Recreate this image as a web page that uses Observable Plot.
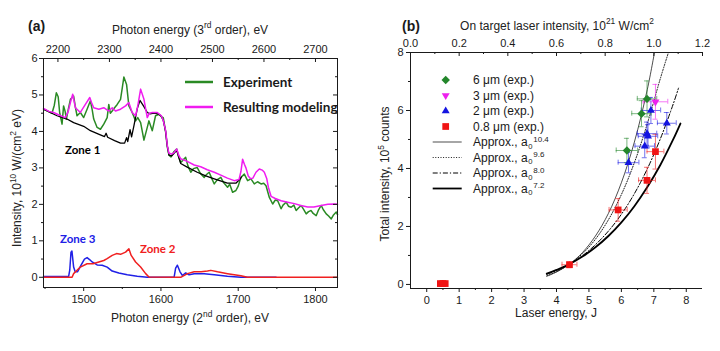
<!DOCTYPE html>
<html><head><meta charset="utf-8">
<script src="https://cdn.jsdelivr.net/npm/d3@7"></script>
<script src="https://cdn.jsdelivr.net/npm/@observablehq/plot@0.6"></script>
<style>
html,body{margin:0;padding:0;background:#fff;}
#wrap{position:relative;width:720px;height:351px;overflow:hidden;background:#fff;}
#a,#b{position:absolute;top:0;width:360px;height:351px;}
#a{left:0}#b{left:360px}
text{white-space:pre}
</style></head><body><div id="wrap"><div id="a"></div><div id="b"></div></div>
<script>
// ================= Panel (a) data: photon energy (2nd order, eV) / intensity (1e10 W/(cm2 eV)) =================
const expE = [1449,1454,1459,1462,1464.6,1467,1469,1472,1474,1476,1477.6,1480,1482.8,1487,1489,1491.4,1495.7,1500,1504.4,1508.7,1511,1513,1517.4,1521.7,1526,1530.4,1532.5,1534.5,1536.9,1540,1543.4,1547.7,1550,1552,1555.5,1558.5,1562.8,1567.2,1570,1573.7,1578,1582.3,1584.4,1588.8,1593,1597.4,1601,1603,1606,1608,1610.4,1613,1617,1620.4,1623,1625.6,1628,1632,1635,1638.6,1642,1647,1651,1656,1659,1662.4,1666,1669,1673,1677.5,1681,1686.2,1689,1692.7,1697,1700,1703.5,1707.9,1712.2,1716.5,1720.8,1725,1729.5,1733,1736,1740.3,1744.6,1748,1751.1,1755.5,1758,1762,1765,1768.5,1772,1775,1778,1781.4,1785,1788,1791,1794.4,1797,1800.9,1804,1807.4,1810,1813.9,1817,1820.4,1823,1826.9,1828.5];
const expI = [4.60,4.55,4.50,4.72,5.06,4.95,4.50,4.20,4.70,4.55,4.34,4.60,4.88,4.97,4.70,4.43,4.52,4.38,4.61,4.84,4.60,4.34,4.11,4.06,4.20,4.38,4.74,4.50,4.56,4.65,4.74,4.88,5.20,5.49,5.29,4.70,4.52,4.29,4.38,4.24,3.76,4.11,4.29,4.02,4.43,4.47,4.40,4.38,4.00,3.60,3.35,3.30,3.45,3.52,3.30,3.15,3.20,3.29,3.05,2.88,2.98,3.01,2.85,2.74,2.82,2.88,2.70,2.56,2.68,2.74,2.60,2.47,2.55,2.33,2.38,2.50,2.74,2.83,2.65,2.70,2.56,2.62,2.56,2.58,2.51,2.19,2.01,2.12,2.10,1.88,1.98,2.06,1.95,1.92,1.98,1.83,1.90,1.97,1.85,1.74,1.80,1.83,1.75,1.69,1.85,1.97,1.86,1.74,1.68,1.60,1.70,1.79,1.72];

const modE = [1448,1455,1461,1468,1476.3,1480,1482.8,1485.8,1489.3,1495.7,1502.2,1507.9,1510,1513,1519.6,1526,1532.5,1537,1541.2,1547.7,1554.2,1558.5,1562.8,1567.2,1570,1573.7,1578,1582.3,1585,1588.8,1595.3,1600.5,1603,1606.1,1608.3,1610.4,1614,1617,1620.4,1623,1625.6,1634,1643,1651.5,1660,1669,1677.5,1686,1694.9,1701,1703.5,1705.7,1708,1710,1713,1716,1719,1723,1727.3,1731,1733.8,1737,1739,1742.5,1748,1755.5,1764,1772.8,1781,1790,1798,1807.4,1816,1824.7,1828.5];
const modI = [4.63,4.55,4.52,4.45,4.38,4.55,4.79,5.02,4.65,4.52,4.74,4.93,4.80,4.65,4.61,4.65,4.56,4.65,4.56,4.61,4.70,4.79,4.52,4.43,4.70,5.16,4.88,4.38,4.50,4.52,4.52,4.43,4.30,4.02,3.60,3.40,3.38,3.42,3.52,3.35,3.25,3.18,3.08,3.03,2.95,2.88,2.80,2.72,2.65,2.68,2.90,3.24,3.10,3.00,2.78,2.70,2.72,2.88,2.97,2.94,2.88,2.70,2.47,2.22,2.16,2.10,2.06,2.02,1.97,1.93,1.93,1.97,2.00,2.01,2.00];

const zone1E = [1448,1465.5,1478.4,1487,1500,1508.7,1520,1527,1529,1531,1540,1547.7,1553,1555.5,1557,1560,1562,1565,1569.3,1572.8,1578,1582.3,1586,1591,1596,1600,1603,1606,1608.3,1610.4,1614,1617,1620.4,1623,1625.6,1634,1647,1658,1669,1686,1697,1702.7,1704];
const zone1I = [4.61,4.43,4.34,4.24,4.14,4.02,3.92,3.86,3.95,3.84,3.75,3.68,3.68,3.83,3.72,4.05,3.85,4.15,4.62,4.85,4.68,4.52,4.48,4.50,4.48,4.43,4.30,4.00,3.60,3.35,3.33,3.40,3.48,3.30,3.12,3.02,2.88,2.78,2.70,2.58,2.58,2.70,2.75];

const zone2E = [1448,1485,1487,1495.7,1504.4,1512,1519.6,1526,1530.4,1536.9,1542.5,1547.7,1554.2,1558.5,1561.5,1567.2,1573.7,1580.2,1584.5,1625.6,1634.3,1643,1652,1660.2,1664.6,1673.2,1686.2,1703.5,1712,1828.5];
const zone2I = [0,0,0.10,0.28,0.37,0.37,0.42,0.46,0.51,0.60,0.65,0.63,0.69,0.78,0.60,0.42,0.28,0.10,0.01,0,0.10,0.15,0.15,0.17,0.19,0.15,0.10,0.04,0,0];

const zone3E = [1448,1480.6,1482,1483.6,1484.8,1487,1489,1492,1497,1501,1504.4,1508,1511,1517.4,1523.9,1530.4,1536.9,1545.5,1556.4,1569.3,1582.3,1617,1619,1621.3,1624.7,1627.8,1632,1636.4,1643,1656,1669,1686,1703.5,1749];
const zone3I = [0.02,0.03,0.20,0.69,0.72,0.28,0.15,0.15,0.35,0.50,0.54,0.48,0.42,0.34,0.33,0.28,0.17,0.12,0.07,0.03,0,0,0.25,0.33,0.15,0.05,0.12,0.07,0.10,0.10,0.07,0.03,0,0];

const botMajorA = [1500,1600,1700,1800];
const botMinorA = [1450,1550,1650,1750];
const topMajor3 = [2200,2300,2400,2500,2600,2700];
const topMinor3 = [2250,2350,2450,2550,2650];
const leftMajorA = [0,1,2,3,4,5,6];
const leftMinorA = [0.5,1.5,2.5,3.5,4.5,5.5];
const orderRatio = 3 / 2; // 3rd-order energy = 1.5 x 2nd-order energy

// ================= Panel (b) data: laser energy (J) / total intensity (1e5 counts) =================
const e6 = [6.79,6.62,6.17], c6 = [6.40,5.89,4.62], ex6 = [0.30,0.30,0.33], ey6 = [0.62,0.45,0.42];
const e3 = [7.05], c3 = [6.30], ex3 = [0.38], ey3 = [0.60];
const e2 = [6.91,7.40,6.79,6.82,6.72,6.22], c2 = [6.00,5.56,5.20,5.11,4.77,4.20], ex2 = [0.30,0.29,0.30,0.30,0.30,0.32], ey2 = [0.45,0.37,0.40,0.40,0.40,0.35];
const e08 = [0.42,0.50,0.57,4.40,5.90,6.79,7.05], c08 = [0.03,0.03,0.03,0.68,2.57,3.59,4.58], ex08 = [0,0,0,0.23,0.28,0.26,0.26], ey08 = [0,0,0,0.10,0.39,0.45,0.60];

const fit104E = [3.7,4.0,4.4,4.8,5.2,5.6,6.0,6.4,6.8,7.02];
const fit104I = [0.28,0.43,0.70,1.10,1.67,2.45,3.51,4.91,6.73,8.0];
const fit96E = [3.7,4.0,4.4,4.8,5.2,5.6,6.0,6.4,6.8,7.2,7.45];
const fit96I = [0.30,0.44,0.70,1.06,1.56,2.23,3.10,4.20,5.55,7.10,8.0];
const fit80E = [3.7,4.0,4.4,4.8,5.2,5.6,6.0,6.4,6.8,7.2,7.6,7.76];
const fit80I = [0.35,0.48,0.70,0.99,1.37,1.84,2.42,3.13,3.99,5.02,6.23,6.77];
const fit72E = [3.7,4.0,4.4,4.8,5.2,5.6,6.0,6.4,6.8,7.2,7.6,7.82];
const fit72I = [0.37,0.50,0.70,0.96,1.28,1.67,2.14,2.70,3.36,4.12,5.01,5.55];

const botMajorB = [0,1,2,3,4,5,6,7,8];
const botMinorB = [0.5,1.5,2.5,3.5,4.5,5.5,6.5,7.5];
const leftMajorB = [0,2,4,6,8];
const leftMinorB = [1,3,5,7];
const topMajorB = [0,0.2,0.4,0.6,0.8,1.0,1.2];
const topMinorB = [0.1,0.3,0.5,0.7,0.9,1.1];
const topRangeB = [0, 1.2]; // intensity (1e21 W/cm2) at left / right frame edge

const legendSizes = ["6 μm (exp.)","3 μm (exp.)","2 μm (exp.)","0.8 μm (exp.)"];
const legendFits = ["10.4","9.6","8.0","7.2"];

// ================= helpers =================
const rows = (X, Y) => X.map((x, i) => ({x, y: Y[i]}));
const ink = "#1a1a1a";
const baseStyle = {fontFamily: "'Liberation Sans', Arial, sans-serif", fontSize: "11px", color: ink, background: "white", overflow: "visible"};
const plain = d => String(d);

function richText(svg, x, y, parts, o = {}) {
  const size = o.size || 12;
  const t = d3.select(svg).append("text")
    .attr("transform", `translate(${x},${y}) rotate(${o.rotate || 0})`)
    .attr("text-anchor", o.anchor || "start")
    .attr("font-size", size)
    .attr("font-weight", o.weight || "normal")
    .attr("fill", o.fill || ink);
  let cur = 0;
  for (const p of parts) {
    const s = typeof p === "string" ? {t: p} : p;
    const target = s.sup ? -0.42 * size : 0;
    const ts = t.append("tspan").attr("dy", target - cur).text(s.t);
    if (s.sup) ts.attr("font-size", size * 0.7);
    cur = target;
  }
  return t;
}

function errorMarks(E, C, EX, EY, color, capX, capY) {
  const d = E.map((x, i) => ({x, y: C[i], ex: EX[i], ey: EY[i]})).filter(d => d.ex > 0);
  const o = {stroke: color, strokeWidth: 0.8, strokeOpacity: 0.75};
  return [
    Plot.ruleX(d, {x: "x", y1: d => d.y - d.ey, y2: d => d.y + d.ey, ...o}),
    Plot.ruleY(d, {y: "y", x1: d => d.x - d.ex, x2: d => d.x + d.ex, ...o}),
    Plot.ruleY(d, {y: d => d.y - d.ey, x1: d => d.x - capX, x2: d => d.x + capX, ...o}),
    Plot.ruleY(d, {y: d => d.y + d.ey, x1: d => d.x - capX, x2: d => d.x + capX, ...o}),
    Plot.ruleX(d, {x: d => d.x - d.ex, y1: d => d.y - capY, y2: d => d.y + capY, ...o}),
    Plot.ruleX(d, {x: d => d.x + d.ex, y1: d => d.y - capY, y2: d => d.y + capY, ...o})
  ];
}

// ================= Panel (a) =================
{
  const W = 360, H = 351, mT = 58, mR = 23, mB = 64, mL = 43;
  const xD = [1448, 1828.5], yD = [-0.28, 6];
  const pxX = (W - mL - mR) / (xD[1] - xD[0]);
  const pxY = (H - mT - mB) / (yD[1] - yD[0]);
  const inTop = (vals, len) => Plot.ruleX(vals, {x: d => d, y1: yD[1], y2: yD[1] - len / pxY, stroke: ink});
  const inRight = (vals, len) => Plot.ruleY(vals, {y: d => d, x1: xD[1], x2: xD[1] - len / pxX, stroke: ink});
  const svg = Plot.plot({
    width: W, height: H, marginTop: mT, marginRight: mR, marginBottom: mB, marginLeft: mL,
    style: baseStyle,
    x: {domain: xD}, y: {domain: yD},
    marks: [
      Plot.line(rows(zone3E, zone3I), {x: "x", y: "y", stroke: "#2020e6", strokeWidth: 1.5}),
      Plot.line(rows(zone2E, zone2I), {x: "x", y: "y", stroke: "#f02020", strokeWidth: 1.5}),
      Plot.line(rows(expE, expI), {x: "x", y: "y", stroke: "#2a8a24", strokeWidth: 1.5}),
      Plot.line(rows(zone1E, zone1I), {x: "x", y: "y", stroke: "#000", strokeWidth: 1.3}),
      Plot.line(rows(modE, modI), {x: "x", y: "y", stroke: "#f01cf0", strokeWidth: 1.5}),
      Plot.frame({stroke: ink}),
      Plot.axisX({anchor: "bottom", ticks: botMajorA, tickSize: 4, tickPadding: 4, tickFormat: plain, label: null}),
      Plot.axisX({anchor: "bottom", ticks: botMinorA, tickSize: 2, tickFormat: () => "", label: null}),
      Plot.axisX({anchor: "top", ticks: topMajor3.map(v => v / orderRatio), tickSize: 0, tickPadding: 6, tickFormat: v => String(Math.round(v * orderRatio)), label: null}),
      inTop(topMajor3.map(v => v / orderRatio), 4),
      inTop(topMinor3.map(v => v / orderRatio), 2),
      Plot.axisY({anchor: "left", ticks: leftMajorA, tickSize: 4, tickPadding: 2, tickFormat: plain, label: null}),
      Plot.axisY({anchor: "left", ticks: leftMinorA, tickSize: 2, tickFormat: () => "", label: null}),
      inRight(leftMajorA, 4),
      inRight(leftMinorA, 2)
    ]
  });
  document.getElementById("a").appendChild(svg);
  const g = d3.select(svg);
  g.append("text").attr("x", 28).attr("y", 31).attr("text-anchor", "start").attr("font-size", 14).attr("font-weight", "bold").attr("fill", ink).text("(a)");
  richText(svg, 190, 33.5, ["Photon energy (3", {t: "rd", sup: true}, " order), eV"], {anchor: "middle", fill: "#222"});
  richText(svg, 190, 322, ["Photon energy (2", {t: "nd", sup: true}, " order), eV"], {anchor: "middle", fill: "#222"});
  richText(svg, 21, 178, ["Intensity, 10", {t: "10", sup: true}, " W/(cm", {t: "2", sup: true}, " eV)"], {anchor: "middle", rotate: -90, fill: "#222"});
  // legend
  const lf = "Lato, 'Open Sans', sans-serif";
  const leg = [["Experiment", "#2a8a24", 82], ["Resulting modeling", "#f01cf0", 107]];
  for (const [name, col, y] of leg) {
    g.append("line").attr("x1", 185).attr("x2", 213).attr("y1", y).attr("y2", y).attr("stroke", col).attr("stroke-width", 2.5);
    g.append("text").attr("x", 223).attr("y", y + 4.5).attr("text-anchor", "start").attr("font-family", lf).attr("font-weight", "bold").attr("font-size", 13.5).attr("fill", ink).text(name);
  }
  // zone annotations
  const zones = [["Zone 1", "#000", 65, 154], ["Zone 3", "#2020e6", 60, 242.5], ["Zone 2", "#f02020", 140, 253]];
  for (const [name, col, x, y] of zones) {
    g.append("text").attr("x", x).attr("y", y).attr("text-anchor", "start").attr("font-family", lf).attr("font-weight", "bold").attr("font-size", 11.5).attr("fill", col).text(name);
  }
}

// ================= Panel (b) =================
{
  const W = 360, H = 351, mT = 52, mR = 18, mB = 63, mL = 50;
  const xD = [-0.5, 8.5], yD = [-0.14, 8];
  const pxX = (W - mL - mR) / (xD[1] - xD[0]);
  const pxY = (H - mT - mB) / (yD[1] - yD[0]);
  const toJ = v => xD[0] + (v - topRangeB[0]) / (topRangeB[1] - topRangeB[0]) * (xD[1] - xD[0]);
  const inTop = (vals, len) => Plot.ruleX(vals, {x: d => toJ(d), y1: yD[1], y2: yD[1] - len / pxY, stroke: ink});
  const capX = 2.5 / pxX, capY = 2.5 / pxY;
  const line = (E, I, o) => Plot.line(rows(E, I), {x: "x", y: "y", stroke: "#000", curve: "catmull-rom", clip: true, ...o});
  const dots = (E, C, sym, fill, extra = {}) => Plot.dot(rows(E, C), {x: "x", y: "y", symbol: sym, fill, r: 3.8, ...extra});
  const col6 = "#23862b", col3 = "#ee20ee", col2 = "#1414e0", col08 = "#f01414";
  const svg = Plot.plot({
    width: W, height: H, marginTop: mT, marginRight: mR, marginBottom: mB, marginLeft: mL,
    style: baseStyle,
    x: {domain: xD}, y: {domain: yD},
    marks: [
      line(fit104E, fit104I, {strokeWidth: 0.7}),
      line(fit96E, fit96I, {strokeWidth: 0.9, strokeDasharray: "1,1.6"}),
      line(fit80E, fit80I, {strokeWidth: 1, strokeDasharray: "5,2,1.2,2"}),
      line(fit72E, fit72I, {strokeWidth: 1.8}),
      ...errorMarks(e08, c08, ex08, ey08, col08, capX, capY),
      ...errorMarks(e2, c2, ex2, ey2, col2, capX, capY),
      ...errorMarks(e3, c3, ex3, ey3, col3, capX, capY),
      ...errorMarks(e6, c6, ex6, ey6, col6, capX, capY),
      dots(e08, c08, "square", col08),
      dots(e2, c2, "triangle2", col2),
      dots(e3, c3, "triangle2", col3, {rotate: 180}),
      dots(e6, c6, "diamond2", col6),
      Plot.ruleY([yD[0]], {stroke: ink}),
      Plot.ruleY([yD[1]], {stroke: ink}),
      Plot.ruleX([xD[0]], {stroke: ink}),
      Plot.axisX({anchor: "bottom", ticks: botMajorB, tickSize: 4, tickPadding: 4, tickFormat: plain, label: null}),
      Plot.axisX({anchor: "bottom", ticks: botMinorB, tickSize: 2, tickFormat: () => "", label: null}),
      Plot.axisX({anchor: "top", ticks: topMajorB.map(toJ), tickSize: 0, tickPadding: 6, tickFormat: v => d3.format(".1f")(topRangeB[0] + (v - xD[0]) / (xD[1] - xD[0]) * (topRangeB[1] - topRangeB[0])), label: null}),
      inTop(topMajorB, 4),
      inTop(topMinorB, 2),
      Plot.axisY({anchor: "left", ticks: leftMajorB, tickSize: 4, tickPadding: 3, tickFormat: plain, label: null}),
      Plot.axisY({anchor: "left", ticks: leftMinorB, tickSize: 2, tickFormat: () => "", label: null})
    ]
  });
  document.getElementById("b").appendChild(svg);
  const g = d3.select(svg);
  g.append("text").attr("x", 42).attr("y", 31).attr("text-anchor", "start").attr("font-size", 14).attr("font-weight", "bold").attr("fill", ink).text("(b)");
  richText(svg, 197, 29.5, ["On target laser intensity, 10", {t: "21", sup: true}, " W/cm", {t: "2", sup: true}], {anchor: "middle", fill: "#222"});
  richText(svg, 196, 316.5, ["Laser energy, J"], {anchor: "middle", fill: "#222"});
  richText(svg, 29, 174, ["Total intensity, 10", {t: "5", sup: true}, " counts"], {anchor: "middle", rotate: -90, fill: "#222"});
  // legend
  const symX = 85.7, txtX = 113, row0 = 80, dRow = 15.5;
  const symDefs = [[d3.symbolDiamond2, col6, 0], [d3.symbolTriangle2, col3, 180], [d3.symbolTriangle2, col2, 0], [d3.symbolSquare, col08, 0]];
  symDefs.forEach(([type, col, rot], i) => {
    const y = row0 + i * dRow;
    g.append("path").attr("d", d3.symbol(type, 3.8 * 3.8 * Math.PI)()).attr("fill", col)
      .attr("transform", `translate(${symX},${y}) rotate(${rot})`);
    g.append("text").attr("x", txtX).attr("y", y).attr("dy", "0.36em").attr("text-anchor", "start").attr("font-size", 12).attr("fill", ink).text(legendSizes[i]);
  });
  const lineStyles = [[0.7, null], [0.9, "1,1.6"], [1, "5,2,1.2,2"], [1.8, null]];
  lineStyles.forEach(([w, dash], i) => {
    const y = row0 + (i + 4) * dRow;
    const base = y + 4.2;
    const l = g.append("line").attr("x1", 72.7).attr("x2", 101.7).attr("y1", y).attr("y2", y).attr("stroke", "#000").attr("stroke-width", w);
    if (dash) l.attr("stroke-dasharray", dash);
    const main = g.append("text").attr("x", txtX).attr("y", base).attr("text-anchor", "start").attr("font-size", 12).attr("fill", ink).text("Approx., a");
    const xa = txtX + main.node().getComputedTextLength();
    const sub = g.append("text").attr("x", xa + 0.5).attr("y", base + 2.6).attr("text-anchor", "start").attr("font-size", 7.6).attr("fill", ink).text("0");
    const xs = xa + 0.5 + sub.node().getComputedTextLength() + 0.8;
    g.append("text").attr("x", xs).attr("y", base - 4.4).attr("text-anchor", "start").attr("font-size", 8).attr("fill", ink).text(legendFits[i]);
  });
}
</script></body></html>
